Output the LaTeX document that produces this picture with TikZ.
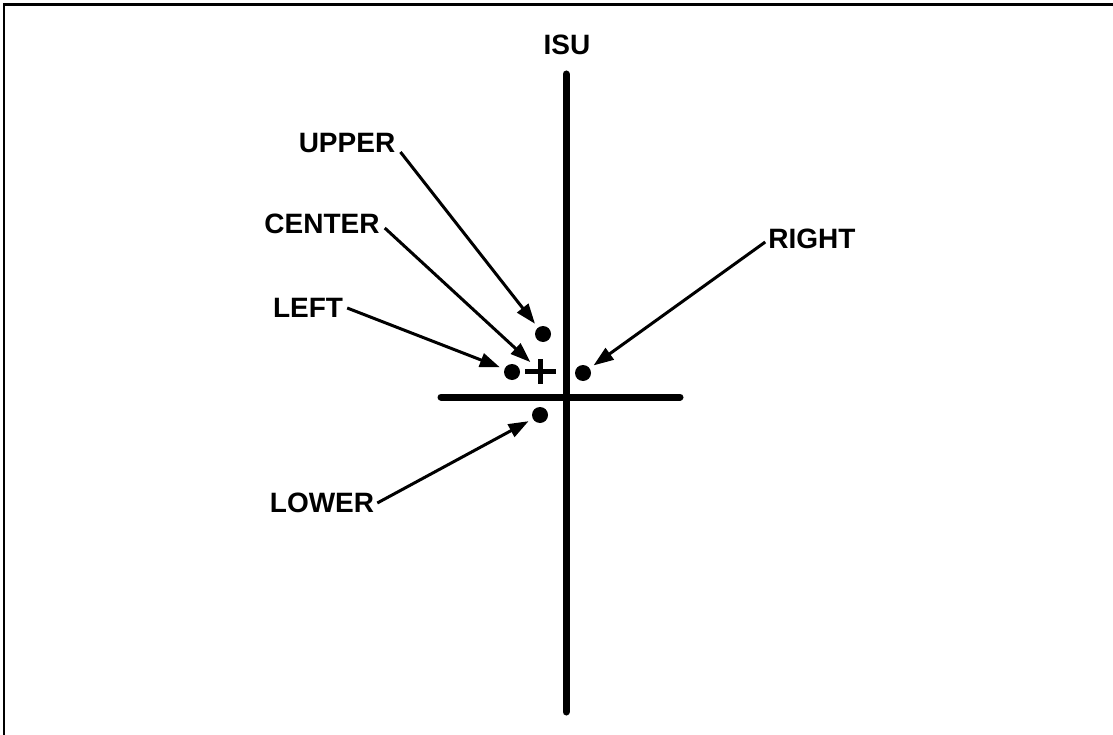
\documentclass[tikz,border=0pt]{standalone}
\usepackage{fontspec}
\setmainfont{Liberation Sans}
\usetikzlibrary{arrows.meta}
\begin{document}
\begin{tikzpicture}[x=1pt,y=-1pt,
  lbl/.style={font=\fontsize{28}{30}\selectfont\bfseries, inner sep=0pt},
  dot/.style={circle, fill=black, minimum size=16pt, inner sep=0pt, outer sep=5pt},
  arr/.style={line width=3pt, -{Triangle[length=20pt,width=14pt]}},
  axis/.style={line width=7pt, line cap=round}]
\useasboundingbox (0,0) rectangle (1113,735);
\draw[line width=3pt] (3,5) -- (1113,5);
\draw[line width=2.5pt] (4,5) -- (4,735);
% axes
\coordinate (vtop) at (566,74);
\coordinate (vbot) at (566,712);
\coordinate (hl) at (441,397);
\coordinate (hr) at (680,397);
\draw[axis] (vtop) -- (vbot);
\draw[axis] (hl) -- (hr);
\node[lbl] (isu) at (567,45) {ISU};
% dots
\node[dot] (ud) at (543,334) {};
\node[dot] (ld) at (512,372) {};
\node[dot] (rd) at (583,373) {};
\node[dot] (lod) at (540,415) {};
\node[circle, minimum size=26pt, inner sep=0pt] (plus) at (540,371) {};
\draw[line width=5pt] (525,371) -- (556,371);
\draw[line width=5pt] (540,359) -- (540,384);
% labels
\node[lbl] (upper) at (347,143) {UPPER};
\node[lbl] (center) at (322,224) {CENTER};
\node[lbl] (left) at (308,308) {LEFT};
\node[lbl] (right) at (812,239) {RIGHT};
\node[lbl] (lower) at (322,503) {LOWER};
% arrows
\draw[arr] ([shift={(5,9)}]upper.east) -- (ud);
\draw[arr] ([shift={(5,4)}]center.east) -- (plus);
\draw[arr] ([shift={(4,0)}]left.east) -- (ld);
\draw[arr] ([shift={(-3,3)}]right.west) -- (rd);
\draw[arr] ([shift={(3,0)}]lower.east) -- (lod);
\end{tikzpicture}
\end{document}
